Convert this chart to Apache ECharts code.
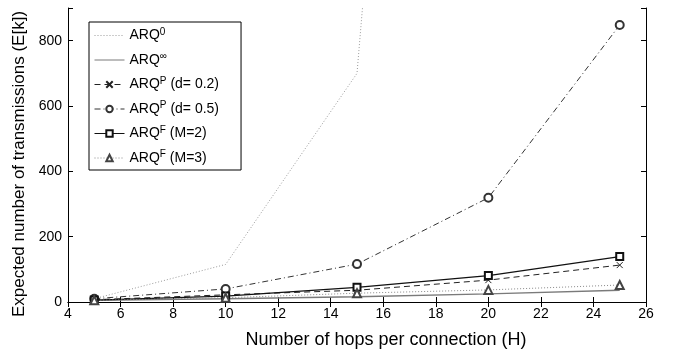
<!DOCTYPE html>
<html>
<head>
<meta charset="utf-8">
<script src="https://cdn.jsdelivr.net/npm/echarts@6/dist/echarts.min.js"></script>
<style>
  html, body { margin: 0; padding: 0; background: #fff; }
  #chart { width: 678px; height: 354px; }
</style>
</head>
<body>
<div id="chart"></div>
<script>
// hops per connection
const hops = [5, 10, 15, 20, 25]

// expected number of transmissions
const arq0 = [10, 115, 700, 5500, 40000]
const arqInf = [5, 10, 16, 25, 36]
const arqP02 = [7, 22, 36, 67, 113]
const arqP05 = [10, 40, 116, 319, 848]
const arqF2 = [6, 18, 45, 81, 139]
const arqF3 = [5, 13, 27, 37, 52]

const yTicks = [0, 200, 400, 600, 800]

const legendText = {
  arq0: 'ARQ{s|0}',
  arqInf: 'ARQ{s|∞}',
  arqP02: 'ARQ{s|P} (d= 0.2)',
  arqP05: 'ARQ{s|P} (d= 0.5)',
  arqF2: 'ARQ{s|F} (M=2)',
  arqF3: 'ARQ{s|F} (M=3)'
}

const pairs = (ys) => hops.map((h, i) => [h, ys[i]])

const chart = echarts.init(document.getElementById('chart'))

const font = 'Liberation Sans, Arial, sans-serif'

const axisCommon = {
  axisLine: { show: true, lineStyle: { color: '#000', width: 1 } },
  axisTick: { show: true, inside: true, length: 5, lineStyle: { color: '#000' } },
  splitLine: { show: false }
}

// series without markers: hide the legend dot, keep the line sample
const noDot = { color: 'transparent', borderColor: 'transparent' }

const option = {
  backgroundColor: '#fff',
  animation: false,
  grid: { left: 68, right: 32, top: 8, bottom: 52 },
  legend: {
    orient: 'vertical',
    left: 89,
    top: 22,
    padding: [5, 22, 5, 5],
    itemWidth: 30,
    itemHeight: 8,
    itemGap: 9,
    borderColor: '#000',
    borderWidth: 1,
    backgroundColor: '#fff',
    lineStyle: { width: 1 },
    data: [
      { name: 'arq0', itemStyle: noDot },
      { name: 'arqInf', itemStyle: noDot },
      'arqP02', 'arqP05', 'arqF2', 'arqF3'
    ],
    formatter: (name) => legendText[name],
    textStyle: {
      fontFamily: font,
      fontSize: 14,
      color: '#000',
      rich: {
        s: { fontSize: 10, verticalAlign: 'bottom', padding: [0, 0, 7, 0] }
      }
    }
  },
  xAxis: [
    {
      type: 'value',
      min: 4,
      max: 26,
      interval: 2,
      name: 'Number of hops per connection (H)',
      nameLocation: 'middle',
      nameGap: 29,
      nameTextStyle: { fontFamily: font, fontSize: 18, color: '#000', padding: [0, 0, 0, 58] },
      axisLabel: { fontFamily: font, fontSize: 14, color: '#000', margin: 5 },
      ...axisCommon
    },
    {
      type: 'value',
      position: 'top',
      min: 4,
      max: 26,
      interval: 2,
      axisLabel: { show: false },
      ...axisCommon
    }
  ],
  yAxis: [
    {
      type: 'value',
      min: 0,
      max: 900,
      interval: 200,
      name: 'Expected number of transmissions (E[k])',
      nameLocation: 'middle',
      nameGap: 38,
      nameTextStyle: { fontFamily: font, fontSize: 17, color: '#000', padding: [0, 18, 0, 0] },
      axisLabel: {
        fontFamily: font,
        fontSize: 14,
        color: '#000',
        margin: 6,
        formatter: (v) => (yTicks.includes(v) ? String(v) : '')
      },
      ...axisCommon
    },
    {
      type: 'value',
      position: 'right',
      min: 0,
      max: 900,
      interval: 200,
      axisLabel: { show: false },
      ...axisCommon
    }
  ],
  series: [
    {
      name: 'arq0',
      type: 'line',
      data: pairs(arq0),
      symbol: 'none',
      lineStyle: { color: '#9a9a9a', width: 1, type: [1, 2] },
      itemStyle: { color: '#9a9a9a' }
    },
    {
      name: 'arqInf',
      type: 'line',
      data: pairs(arqInf),
      symbol: 'none',
      lineStyle: { color: '#7a7a7a', width: 1.3, type: 'solid' },
      itemStyle: { color: '#7a7a7a' }
    },
    {
      name: 'arqP02',
      type: 'line',
      data: pairs(arqP02),
      symbol: 'path://M0,0L10,10M10,0L0,10',
      symbolSize: 6,
      lineStyle: { color: '#222', width: 1, type: [6, 4] },
      itemStyle: { color: 'transparent', borderColor: '#222', borderWidth: 1 }
    },
    {
      name: 'arqP05',
      type: 'line',
      data: pairs(arqP05),
      symbol: 'emptyCircle',
      symbolSize: 8,
      lineStyle: { color: '#333', width: 1, type: [6, 3, 1, 3] },
      itemStyle: { color: '#333', borderWidth: 1 }
    },
    {
      name: 'arqF2',
      type: 'line',
      data: pairs(arqF2),
      symbol: 'emptyRect',
      symbolSize: 7,
      lineStyle: { color: '#111', width: 1.2, type: 'solid' },
      itemStyle: { color: '#111', borderWidth: 1 }
    },
    {
      name: 'arqF3',
      type: 'line',
      data: pairs(arqF3),
      symbol: 'emptyTriangle',
      symbolSize: 8,
      lineStyle: { color: '#888', width: 1, type: [1, 2] },
      itemStyle: { color: '#444', borderWidth: 1 }
    }
  ]
}

chart.setOption(option)
</script>
</body>
</html>
